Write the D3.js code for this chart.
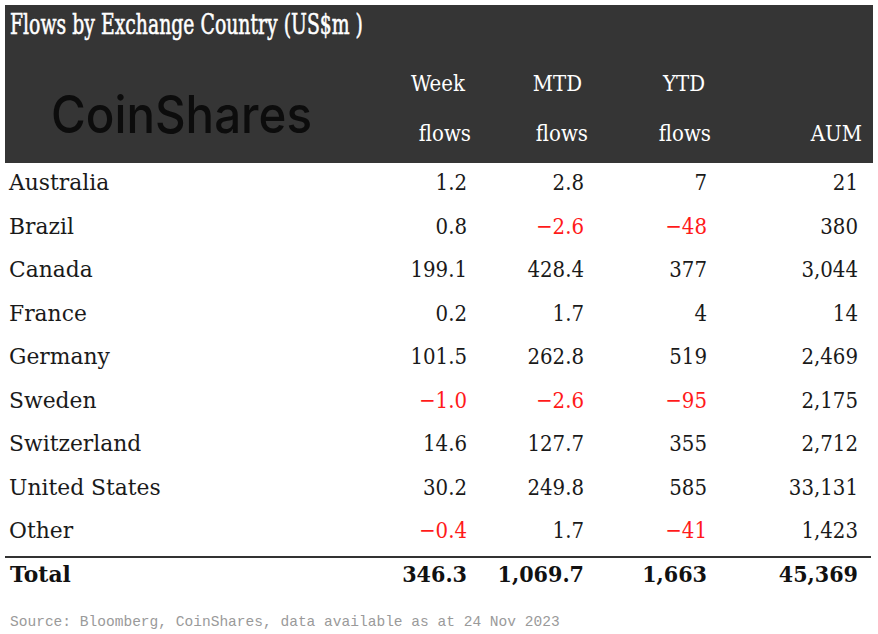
<!DOCTYPE html>
<html>
<head>
<meta charset="utf-8">
<script src="https://cdn.jsdelivr.net/npm/d3@7"></script>
<style>
  html, body { margin: 0; padding: 0; background: #fff; }
  svg { display: block; }
</style>
</head>
<body>
<div id="chart"></div>
<script>
const title = "Flows by Exchange Country (US$m )"
const source = "Source: Bloomberg, CoinShares, data available as at 24 Nov 2023"

const countries = ["Australia", "Brazil", "Canada", "France", "Germany", "Sweden", "Switzerland", "United States", "Other"]
const weekFlows = [1.2, 0.8, 199.1, 0.2, 101.5, -1.0, 14.6, 30.2, -0.4]
const mtdFlows = [2.8, -2.6, 428.4, 1.7, 262.8, -2.6, 127.7, 249.8, 1.7]
const ytdFlows = [7, -48, 377, 4, 519, -95, 355, 585, -41]
const aum = [21, 380, 3044, 14, 2469, 2175, 2712, 33131, 1423]
const totals = [346.3, 1069.7, 1663, 45369]

const columns = ["week", "mtd", "ytd", "aum"]
const headTop = ["Week", "MTD", "YTD", ""]
const headBottom = ["flows", "flows", "flows", "AUM"]
const formats = [d3.format(",.1f"), d3.format(",.1f"), d3.format(",.0f"), d3.format(",.0f")]
const series = [weekFlows, mtdFlows, ytdFlows, aum]

const width = 878, height = 634
const serif = "'DejaVu Serif', serif"

const svg = d3.select("#chart").append("svg")
  .attr("width", width)
  .attr("height", height)

// squeeze text horizontally like the source rendering
function label(g, txt, x, y, opts = {}) {
  const t = g.append("text")
    .attr("transform", `translate(${x},${y}) scale(${opts.sx || 1},1)`)
    .attr("text-anchor", opts.anchor || "start")
    .attr("font-family", opts.family || serif)
    .attr("font-size", opts.size || 23)
    .attr("font-weight", opts.weight || "normal")
    .attr("fill", opts.fill || "#1a1a1a")
    .text(txt)
  if (opts.stroke) t.attr("stroke", opts.fill).attr("stroke-width", opts.stroke)
  if (opts.fit) {
    const w = t.node().getComputedTextLength()
    t.attr("transform", `translate(${x},${y}) scale(${opts.fit / w},1)`)
  }
  return t
}

// header block
svg.append("rect")
  .attr("x", 5).attr("y", 5)
  .attr("width", 868).attr("height", 158)
  .attr("fill", "#353535")

label(svg, title, 10, 34, {size: 28, fill: "#fff", stroke: 0.6, fit: 353})
label(svg, "CoinShares", 51, 133, {family: "Inter, sans-serif", size: 52, weight: 500, fill: "#0c0c0c", fit: 261})

const x = d3.scaleOrdinal()
  .domain(columns)
  .range([467, 584, 707, 858])

const y = d3.scaleBand()
  .domain(countries)
  .range([160, 160 + 43.5 * countries.length])

columns.forEach((c, i) => {
  if (headTop[i]) label(svg, headTop[i], x(c) - 2, 91, {anchor: "end", fill: "#fff", sx: 0.86})
  label(svg, headBottom[i], x(c) + 4, 141, {anchor: "end", fill: "#fff", sx: 0.86})
})

// body rows
const rows = svg.append("g")
countries.forEach((name, r) => {
  const base = y(name) + 30
  label(rows, name, 9, base, {sx: 0.95})
  columns.forEach((c, i) => {
    const v = series[i][r]
    label(rows, formats[i](v), x(c), base, {
      anchor: "end",
      sx: 0.86,
      fill: v < 0 ? "#ff1a1a" : "#1a1a1a"
    })
  })
})

svg.append("line")
  .attr("x1", 5).attr("x2", 871)
  .attr("y1", 557).attr("y2", 557)
  .attr("stroke", "#333")
  .attr("stroke-width", 2)

label(svg, "Total", 10, 582, {weight: "bold", sx: 0.95, fill: "#111"})
columns.forEach((c, i) => {
  label(svg, formats[i](totals[i]), x(c), 582, {anchor: "end", weight: "bold", sx: 0.9, fill: "#111"})
})

label(svg, source, 10, 626, {family: "'Liberation Mono', monospace", size: 15, fill: "#9a9a9a", fit: 550})
</script>
</body>
</html>
